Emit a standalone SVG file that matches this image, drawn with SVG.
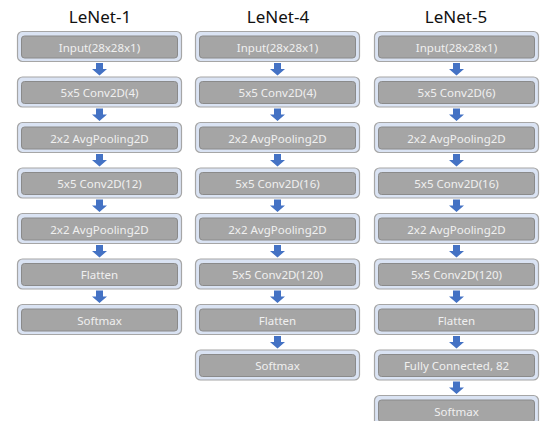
<svg xmlns="http://www.w3.org/2000/svg" xmlns:xlink="http://www.w3.org/1999/xlink" width="541" height="421" viewBox="0 0 541 421">
  <style>
    .title { font-family: "Noto Sans", "Liberation Sans", sans-serif; font-size: 17px; fill: #111; text-anchor: middle; }
    .outer { fill: #DAE3F3; stroke: #A6A6A6; stroke-width: 1.2; }
    .inner { fill: #A5A5A5; stroke: #8A8A8A; stroke-width: 1; }
    .lbl { font-family: "Noto Sans", "Liberation Sans", sans-serif; font-size: 11.5px; fill: #F0F0F0; text-anchor: middle; dominant-baseline: central; }
    .arr { fill: #4472C4; }
  </style>
  <defs>
    <!-- layer block: outer frame + grey inner bar, 165 x 31 -->
    <g id="block">
      <rect class="outer" x="0.5" y="0.5" width="164" height="30" rx="5"/>
      <rect class="inner" x="4.5" y="5" width="156" height="22" rx="3"/>
    </g>
    <!-- downward block arrow, origin at top centre -->
    <path id="arrow" class="arr" d="M-3.5,0 H3.5 V6 H7.5 L0,12.5 L-7.5,6 H-3.5 Z"/>
  </defs>

  <rect width="541" height="421" fill="#FFFFFF"/>

  <!-- column titles -->
  <text class="title" x="100" y="23">LeNet-1</text>
  <text class="title" x="278" y="23">LeNet-4</text>
  <text class="title" x="456" y="23">LeNet-5</text>

  <!-- LeNet-1 -->
  <g id="l1-input" transform="translate(17,31)"><use xlink:href="#block"/><text class="lbl" x="82.5" y="16">Input(28x28x1)</text></g>
  <g id="l1-conv1" transform="translate(17,76.5)"><use xlink:href="#block"/><text class="lbl" x="82.5" y="16">5x5 Conv2D(4)</text></g>
  <g id="l1-pool1" transform="translate(17,122)"><use xlink:href="#block"/><text class="lbl" x="82.5" y="16">2x2 AvgPooling2D</text></g>
  <g id="l1-conv2" transform="translate(17,167.5)"><use xlink:href="#block"/><text class="lbl" x="82.5" y="16">5x5 Conv2D(12)</text></g>
  <g id="l1-pool2" transform="translate(17,213)"><use xlink:href="#block"/><text class="lbl" x="82.5" y="16">2x2 AvgPooling2D</text></g>
  <g id="l1-flatten" transform="translate(17,258.5)"><use xlink:href="#block"/><text class="lbl" x="82.5" y="16">Flatten</text></g>
  <g id="l1-softmax" transform="translate(17,304)"><use xlink:href="#block"/><text class="lbl" x="82.5" y="16">Softmax</text></g>

  <!-- LeNet-4 -->
  <g id="l4-input" transform="translate(195,31)"><use xlink:href="#block"/><text class="lbl" x="82.5" y="16">Input(28x28x1)</text></g>
  <g id="l4-conv1" transform="translate(195,76.5)"><use xlink:href="#block"/><text class="lbl" x="82.5" y="16">5x5 Conv2D(4)</text></g>
  <g id="l4-pool1" transform="translate(195,122)"><use xlink:href="#block"/><text class="lbl" x="82.5" y="16">2x2 AvgPooling2D</text></g>
  <g id="l4-conv2" transform="translate(195,167.5)"><use xlink:href="#block"/><text class="lbl" x="82.5" y="16">5x5 Conv2D(16)</text></g>
  <g id="l4-pool2" transform="translate(195,213)"><use xlink:href="#block"/><text class="lbl" x="82.5" y="16">2x2 AvgPooling2D</text></g>
  <g id="l4-conv3" transform="translate(195,258.5)"><use xlink:href="#block"/><text class="lbl" x="82.5" y="16">5x5 Conv2D(120)</text></g>
  <g id="l4-flatten" transform="translate(195,304)"><use xlink:href="#block"/><text class="lbl" x="82.5" y="16">Flatten</text></g>
  <g id="l4-softmax" transform="translate(195,349.5)"><use xlink:href="#block"/><text class="lbl" x="82.5" y="16">Softmax</text></g>

  <!-- LeNet-5 -->
  <g id="l5-input" transform="translate(374,31)"><use xlink:href="#block"/><text class="lbl" x="82.5" y="16">Input(28x28x1)</text></g>
  <g id="l5-conv1" transform="translate(374,76.5)"><use xlink:href="#block"/><text class="lbl" x="82.5" y="16">5x5 Conv2D(6)</text></g>
  <g id="l5-pool1" transform="translate(374,122)"><use xlink:href="#block"/><text class="lbl" x="82.5" y="16">2x2 AvgPooling2D</text></g>
  <g id="l5-conv2" transform="translate(374,167.5)"><use xlink:href="#block"/><text class="lbl" x="82.5" y="16">5x5 Conv2D(16)</text></g>
  <g id="l5-pool2" transform="translate(374,213)"><use xlink:href="#block"/><text class="lbl" x="82.5" y="16">2x2 AvgPooling2D</text></g>
  <g id="l5-conv3" transform="translate(374,258.5)"><use xlink:href="#block"/><text class="lbl" x="82.5" y="16">5x5 Conv2D(120)</text></g>
  <g id="l5-flatten" transform="translate(374,304)"><use xlink:href="#block"/><text class="lbl" x="82.5" y="16">Flatten</text></g>
  <g id="l5-fc" transform="translate(374,349.5)"><use xlink:href="#block"/><text class="lbl" x="82.5" y="16">Fully Connected, 82</text></g>
  <g id="l5-softmax" transform="translate(374,395)"><use xlink:href="#block"/><text class="lbl" x="82.5" y="16">Softmax</text></g>

  <!-- connectors -->
  <g id="connectors">
    <use xlink:href="#arrow" transform="translate(99.5,63)"/>
    <use xlink:href="#arrow" transform="translate(99.5,108.5)"/>
    <use xlink:href="#arrow" transform="translate(99.5,154)"/>
    <use xlink:href="#arrow" transform="translate(99.5,199.5)"/>
    <use xlink:href="#arrow" transform="translate(99.5,245)"/>
    <use xlink:href="#arrow" transform="translate(99.5,290.5)"/>

    <use xlink:href="#arrow" transform="translate(277.5,63)"/>
    <use xlink:href="#arrow" transform="translate(277.5,108.5)"/>
    <use xlink:href="#arrow" transform="translate(277.5,154)"/>
    <use xlink:href="#arrow" transform="translate(277.5,199.5)"/>
    <use xlink:href="#arrow" transform="translate(277.5,245)"/>
    <use xlink:href="#arrow" transform="translate(277.5,290.5)"/>
    <use xlink:href="#arrow" transform="translate(277.5,336)"/>

    <use xlink:href="#arrow" transform="translate(456.5,63)"/>
    <use xlink:href="#arrow" transform="translate(456.5,108.5)"/>
    <use xlink:href="#arrow" transform="translate(456.5,154)"/>
    <use xlink:href="#arrow" transform="translate(456.5,199.5)"/>
    <use xlink:href="#arrow" transform="translate(456.5,245)"/>
    <use xlink:href="#arrow" transform="translate(456.5,290.5)"/>
    <use xlink:href="#arrow" transform="translate(456.5,336)"/>
    <use xlink:href="#arrow" transform="translate(456.5,381.5)"/>
  </g>
</svg>
